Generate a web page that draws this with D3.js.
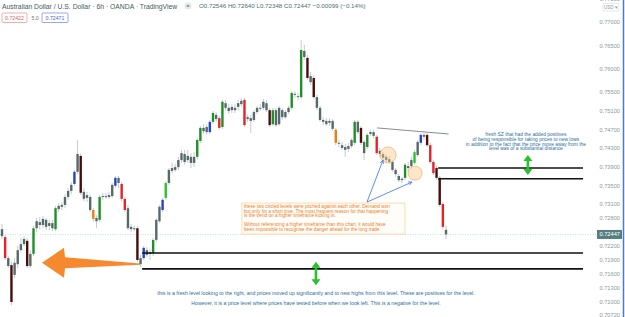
<!DOCTYPE html>
<html>
<head>
<meta charset="utf-8">
<script src="https://cdn.jsdelivr.net/npm/d3@7"></script>
<style>
body { margin: 0; background: #fff; }
svg { display: block; font-family: "Liberation Sans", Arial, sans-serif; }
</style>
</head>
<body>
<svg id="chart" width="625" height="317"></svg>
<script>
// AUD/USD 6h candles
const opens = [
  .7256,.7239,.7194,.7179,.7158,.7181,.7211,.7224,.7231,.7177,
  .7203,.7258,.7271,.7265,.7276,.7263,.7269,.7256,.7299,.7304,
  .7308,.7325,.7338,.7353,.7379,.7413,.7336,.7323,.7325,.7297,
  .7280,.7276,.7325,.7327,.7325,.7327,.7349,.7366,.7353,.7321,
  .7301,.7261,.7256,.7258,.7194,.7194,.7211,.7207,.7205,.7233,
  .7273,.7297,.7323,.7355,.7381,.7383,.7389,.7404,.7417,.7404,
  .7411,.7398,.7411,.7445,.7473,.7464,.7464,.7486,.7501,.7494,
  .7475,.7526,.7516,.7511,.7516,.7518,.7524,.7533,.7492,.7494,
  .7490,.7507,.7514,.7516,.7526,.7511,.7481,.7511,.7481,.7511,
  .7496,.7507,.7516,.7544,.7541,.7539,.7638,.7623,.7584,.7580,
  .7539,.7516,.7490,.7488,.7484,.7488,.7469,.7441,.7436,.7432,
  .7428,.7434,.7441,.7486,.7473,.7443,.7432,.7460,.7464,.7454,
  .7424,.7417,.7411,.7406,.7400,.7383,.7370,.7361,.7366,.7391,
  .7391,.7398,.7415,.7441,.7458,.7458,.7436,.7400,.7387,.7366,
  .7310,.72546
];
const highs = [
  .7267,.7243,.7198,.7186,.7194,.7220,.7237,.7241,.7237,.7211,
  .7263,.7280,.7282,.7284,.7280,.7276,.7276,.7306,.7312,.7314,
  .7331,.7344,.7357,.7383,.7447,.7419,.7344,.7336,.7329,.7301,
  .7286,.7329,.7334,.7334,.7336,.7355,.7370,.7370,.7357,.7325,
  .7308,.7267,.7263,.7263,.7201,.7220,.7218,.7213,.7237,.7280,
  .7308,.7323,.7359,.7387,.7398,.7396,.7411,.7426,.7426,.7426,
  .7419,.7421,.7451,.7477,.7481,.7481,.7490,.7509,.7507,.7499,
  .7533,.7533,.7524,.7524,.7524,.7533,.7537,.7537,.7501,.7501,
  .7511,.7520,.7524,.7535,.7533,.7516,.7516,.7516,.7520,.7516,
  .7511,.7520,.7552,.7552,.7548,.7661,.7651,.7629,.7593,.7586,
  .7544,.7520,.7496,.7494,.7494,.7492,.7473,.7447,.7443,.7439,
  .7441,.7451,.7490,.7490,.7477,.7447,.7462,.7469,.7469,.7458,
  .7430,.7421,.7415,.7413,.7404,.7387,.7374,.7368,.7398,.7400,
  .7411,.7426,.7447,.7462,.7464,.7462,.7441,.7404,.7391,.7370,
  .7314,.72640
];
const lows = [
  .7235,.7190,.7173,.7093,.7151,.7173,.7207,.7220,.7173,.7173,
  .7198,.7250,.7256,.7258,.7254,.7254,.7252,.7252,.7293,.7297,
  .7301,.7319,.7331,.7349,.7374,.7329,.7316,.7314,.7293,.7273,
  .7258,.7271,.7319,.7321,.7321,.7323,.7344,.7344,.7316,.7293,
  .7254,.7250,.7252,.7186,.7175,.7190,.7196,.7190,.7198,.7228,
  .7269,.7293,.7319,.7351,.7376,.7379,.7383,.7398,.7394,.7398,
  .7387,.7389,.7406,.7441,.7460,.7458,.7460,.7481,.7486,.7469,
  .7471,.7511,.7503,.7505,.7505,.7511,.7520,.7475,.7486,.7462,
  .7486,.7503,.7509,.7511,.7507,.7475,.7477,.7475,.7477,.7490,
  .7492,.7503,.7511,.7537,.7533,.7535,.7619,.7576,.7565,.7535,
  .7511,.7486,.7479,.7477,.7477,.7466,.7436,.7432,.7426,.7411,
  .7421,.7430,.7436,.7460,.7436,.7404,.7428,.7456,.7451,.7415,
  .7411,.7402,.7400,.7396,.7379,.7368,.7357,.7355,.7361,.7379,
  .7387,.7394,.7411,.7436,.7447,.7432,.7396,.7372,.7361,.7304,
  .7256,.72348
];
const closes = [
  .7241,.7194,.7177,.7100,.7184,.7211,.7224,.7235,.7177,.7203,
  .7258,.7273,.7265,.7278,.7261,.7269,.7258,.7301,.7306,.7308,
  .7325,.7338,.7351,.7379,.7417,.7334,.7321,.7329,.7297,.7278,
  .7273,.7325,.7327,.7325,.7329,.7351,.7366,.7355,.7321,.7297,
  .7258,.7256,.7258,.7190,.7181,.7216,.7201,.7203,.7233,.7276,
  .7304,.7319,.7355,.7383,.7387,.7389,.7404,.7419,.7400,.7413,
  .7398,.7411,.7447,.7473,.7466,.7475,.7486,.7505,.7492,.7473,
  .7529,.7516,.7509,.7518,.7511,.7526,.7531,.7479,.7496,.7488,
  .7507,.7516,.7516,.7529,.7511,.7479,.7511,.7479,.7516,.7496,
  .7507,.7516,.7548,.7546,.7539,.7640,.7625,.7580,.7571,.7539,
  .7516,.7490,.7486,.7481,.7488,.7471,.7441,.7439,.7430,.7426,
  .7434,.7447,.7486,.7464,.7441,.7419,.7458,.7464,.7456,.7419,
  .7417,.7409,.7404,.7400,.7383,.7374,.7361,.7364,.7394,.7387,
  .7404,.7421,.7443,.7458,.7454,.7436,.7400,.7376,.7366,.7308,
  .7261,.72447
];
// indicator colour class of each candle
const tags = [
  "n","r","n","m","n","n","n","n","m","n",
  "g","n","n","n","n","n","n","g","n","n",
  "n","n","n","b","n","m","n","n","n","o",
  "n","g","n","n","n","n","b","n","r","r",
  "n","n","n","m","n","b","n","n","g","n",
  "n","b","G","n","n","n","n","n","n","n",
  "n","n","g","g","n","n","b","g","n","r",
  "g","n","n","n","n","n","n","r","n","n",
  "n","n","n","n","n","m","g","n","n","n",
  "n","n","g","n","n","g","n","m","n","m",
  "n","n","n","n","n","n","o","n","n","n",
  "n","n","g","n","m","n","g","n","n","r",
  "n","n","n","n","n","n","n","n","g","n",
  "n","G","n","b","n","m","r","r","m","m",
  "r","n"
];

const priceTicks = [0.775, 0.77, 0.765, 0.76, 0.755, 0.751, 0.747, 0.743, 0.739, 0.735,
  0.731, 0.728, 0.722, 0.719, 0.716, 0.713, 0.71, 0.7072];
const lastPrice = 0.72447;

// drawings on the chart (candle index, price)
const zones = [
  { from: 138.5, top: 0.7387, bottom: 0.7364 },
  { from: 44.5, top: 0.7205, bottom: 0.7171 }
];
const trendLine = [{ i: 119.1, p: 0.7473 }, { i: 141.8, p: 0.7460 }];
const circles = [{ i: 122.6, p: 0.7415 }, { i: 131.2, p: 0.7376 }];
const pointerFrom = { i: 115.9, p: 0.7314 };
const pointerTo = [{ i: 121.0, p: 0.7404 }, { i: 130.2, p: 0.7357 }];
const greenArrows = [
  { i: 167.0, top: 0.7415, bottom: 0.7372 },
  { i: 99.7, top: 0.7186, bottom: 0.7136 }
];
const bigArrow = { tail: { i: 43.8, p: 0.7181 }, tip: { i: 12.7, p: 0.7184 } };

const orangeNote = [
  "these two circled levels were pitched against each other. Demand won",
  "but only for a short time. The most frequent reason for that happening",
  "is the trend on a higher timeframe kicking in.",
  "",
  "Without referencing a higher timeframe than this chart, it would have",
  "been impossible to recognise the danger ahead for the long trade."
];
const blueNote = [
  "fresh SZ that had the added positives",
  "of being responsible for taking prices to new lows",
  "in addition to the fact that the price move away from the",
  "level was of a substantial distance"
];
const bottomNote = [
  "this is a fresh level looking to the right, and prices moved up significantly and to new highs from this level. These are positives for the level.",
  "However, it is a price level where prices have tested before when we look left. This is a negative for the level."
];

const tagColor = { n: "#566a6b", r: "#e3242b", m: "#4a0d0d", g: "#1f8f2a", G: "#2bc22b", b: "#2545c8", o: "#f07a18" };

const svg = d3.select("#chart");
const width = 625, height = 317, plotRight = 583;

const x = d3.scaleLinear().domain([0, opens.length - 1]).range([2, 446]);
const y = d3.scaleLinear().domain([0.70678, 0.77471]).range([height, 0]);

const candles = d3.range(opens.length).map(i => ({ i, o: opens[i], h: highs[i], l: lows[i], c: closes[i], t: tags[i] }));

// last price dotted line
svg.append("line")
  .attr("x1", 0).attr("x2", 597)
  .attr("y1", y(lastPrice)).attr("y2", y(lastPrice))
  .attr("stroke", "#b9d0d0").attr("stroke-width", 0.8)
  .attr("stroke-dasharray", "1,1.5");

// big orange arrow
function drawBigArrow(a) {
  const x0 = x(a.tip.i), y0 = y(a.tip.p), x1 = x(a.tail.i), y1 = y(a.tail.p);
  const headLen = 22, headHalf = 15, shaftHalf = 5.5;
  const hx = x0 + headLen;
  const pts = [[x0, y0], [hx, y0 - headHalf], [hx + 1, y0 - shaftHalf], [x1, y1 - 0.6],
               [x1, y1 + 0.6], [hx + 1, y0 + shaftHalf], [hx, y0 + headHalf]];
  svg.append("path")
    .attr("d", d3.line()(pts) + "Z")
    .attr("fill", "#f6892e");
}
drawBigArrow(bigArrow);

// candles
const wicks = svg.append("g");
wicks.selectAll("line").data(candles).join("line")
  .attr("x1", d => x(d.i)).attr("x2", d => x(d.i))
  .attr("y1", d => y(d.h)).attr("y2", d => y(d.l))
  .attr("stroke", "#b7bcbc").attr("stroke-width", 0.8);

const bodies = svg.append("g");
bodies.selectAll("rect").data(candles).join("rect")
  .attr("x", d => x(d.i) - 1.2)
  .attr("width", 2.4)
  .attr("y", d => y(Math.max(d.o, d.c)))
  .attr("height", d => Math.max(1, Math.abs(y(d.o) - y(d.c))))
  .attr("fill", d => tagColor[d.t]);

// zones
zones.forEach(z => {
  [z.top, z.bottom].forEach(p => {
    svg.append("line")
      .attr("x1", x(z.from)).attr("x2", plotRight)
      .attr("y1", y(p)).attr("y2", y(p))
      .attr("stroke", "#111").attr("stroke-width", 1.6);
  });
});

// trend line
svg.append("line")
  .attr("x1", x(trendLine[0].i)).attr("y1", y(trendLine[0].p))
  .attr("x2", x(trendLine[1].i)).attr("y2", y(trendLine[1].p))
  .attr("stroke", "#7a7f85").attr("stroke-width", 0.9);

// circled levels
svg.append("g").selectAll("circle").data(circles).join("circle")
  .attr("cx", d => x(d.i)).attr("cy", d => y(d.p)).attr("r", (d, k) => k ? 7 : 8)
  .attr("fill", "#f9c98a").attr("fill-opacity", 0.45)
  .attr("stroke", "#f3b060").attr("stroke-width", 0.7);

// pointers from the note to the circles
pointerTo.forEach(t => {
  const ax = x(pointerFrom.i), ay = y(pointerFrom.p), bx = x(t.i), by = y(t.p);
  svg.append("line")
    .attr("x1", ax).attr("y1", ay).attr("x2", bx).attr("y2", by)
    .attr("stroke", "#4f7ff0").attr("stroke-width", 0.9);
  const ang = Math.atan2(by - ay, bx - ax);
  const hl = 4, hw = 0.45;
  svg.append("path")
    .attr("d", d3.line()([[bx - hl * Math.cos(ang - hw), by - hl * Math.sin(ang - hw)], [bx, by],
                          [bx - hl * Math.cos(ang + hw), by - hl * Math.sin(ang + hw)]]))
    .attr("fill", "none").attr("stroke", "#4f7ff0").attr("stroke-width", 0.9);
});

// green up/down arrows
greenArrows.forEach(a => {
  const cx = x(a.i), t = y(a.top), b = y(a.bottom);
  const hw = 4.5, hh = 6;
  svg.append("path")
    .attr("d", `M${cx},${t} L${cx + hw},${t + hh} L${cx + 1.3},${t + hh} L${cx + 1.3},${b - hh}
      L${cx + hw},${b - hh} L${cx},${b} L${cx - hw},${b - hh} L${cx - 1.3},${b - hh}
      L${cx - 1.3},${t + hh} L${cx - hw},${t + hh} Z`)
    .attr("fill", "#27c22e");
});

// orange note box
const ox = x(76.2), oy = y(0.7312);
svg.append("rect")
  .attr("x", ox).attr("y", oy).attr("width", 163).attr("height", 31)
  .attr("fill", "#fffdf8").attr("fill-opacity", 0.85)
  .attr("stroke", "#f8d49a").attr("stroke-width", 0.8);
svg.append("g").selectAll("text").data(orangeNote).join("text")
  .attr("x", ox + 2).attr("y", (d, k) => oy + 5 + k * 4.6)
  .attr("font-size", 4.7).attr("fill", "#f07c1c")
  .text(d => d);

// blue note at top right
const bx = x(167), by = y(0.7458);
svg.append("g").selectAll("text").data(blueNote).join("text")
  .attr("x", bx - 2).attr("y", (d, k) => by + 1.2 + k * 4.7)
  .attr("text-anchor", "middle").attr("font-size", 4.9).attr("fill", "#2d6e9c")
  .text(d => d);

// bottom note
const tx = x(99.7), ty = y(0.7119);
svg.append("g").selectAll("text").data(bottomNote).join("text")
  .attr("x", tx).attr("y", (d, k) => ty + 1.8 + k * 10)
  .attr("text-anchor", "middle").attr("font-size", 5.2).attr("fill", "#2d6e9c")
  .text(d => d);

// price axis
const axis = svg.append("g")
  .attr("transform", "translate(620,0)")
  .call(d3.axisLeft(y).tickValues(priceTicks).tickFormat(d3.format(".5f")).tickSize(0).tickPadding(0));
axis.select(".domain").remove();
axis.selectAll("text").attr("font-size", 5.7).attr("fill", "#8a9a9a")
  .attr("font-family", "Liberation Sans, Arial, sans-serif");

// current price label
svg.append("rect")
  .attr("x", 597).attr("y", y(lastPrice) - 4.5).attr("width", 25).attr("height", 9)
  .attr("fill", "#557f7f");
svg.append("text")
  .attr("x", 620).attr("y", y(lastPrice) + 2).attr("text-anchor", "end")
  .attr("font-size", 5.7).attr("fill", "#fff").text(d3.format(".5f")(lastPrice));

// USD selector
svg.append("rect").attr("x", 603).attr("y", 3.5).attr("width", 16).attr("height", 7.5)
  .attr("fill", "#fff").attr("stroke", "#d5d9d9").attr("stroke-width", 0.6).attr("rx", 1);
svg.append("text").attr("x", 611).attr("y", 9).attr("text-anchor", "middle")
  .attr("font-size", 4.5).attr("fill", "#8a9a9a").text("USD ▾");

// right border
svg.append("line").attr("x1", 623.5).attr("x2", 623.5).attr("y1", 0).attr("y2", height)
  .attr("stroke", "#4677ee").attr("stroke-width", 1.5);

// header
svg.append("text").attr("x", 2).attr("y", 8.5).attr("font-size", 6.8).attr("fill", "#3f5c5c")
  .text("Australian Dollar / U.S. Dollar · 6h · OANDA · TradingView");
svg.append("circle").attr("cx", 188).attr("cy", 6).attr("r", 3.6).attr("fill", "#e6e8e8");
svg.append("text").attr("x", 188).attr("y", 7.6).attr("text-anchor", "middle")
  .attr("font-size", 5).attr("fill", "#555").text("=");
svg.append("text").attr("x", 199).attr("y", 8.3).attr("font-size", 6.2).attr("fill", "#4d7070")
  .text("O0.72546 H0.72640 L0.72348 C0.72447 −0.00099 (−0.14%)");

svg.append("rect").attr("x", 2).attr("y", 13).attr("width", 25).attr("height", 9.5).attr("rx", 1)
  .attr("fill", "#fff").attr("stroke", "#ef8a8a").attr("stroke-width", 0.7);
svg.append("text").attr("x", 14.5).attr("y", 19.6).attr("text-anchor", "middle")
  .attr("font-size", 5.2).attr("fill", "#e06060").text("0.72422");
svg.append("text").attr("x", 31.5).attr("y", 19.6).attr("font-size", 5.2).attr("fill", "#777").text("5.0");
svg.append("rect").attr("x", 42).attr("y", 13).attr("width", 26).attr("height", 9.5).attr("rx", 1)
  .attr("fill", "#fff").attr("stroke", "#6e82e6").attr("stroke-width", 0.7);
svg.append("text").attr("x", 55).attr("y", 19.6).attr("text-anchor", "middle")
  .attr("font-size", 5.2).attr("fill", "#4f62d0").text("0.72471");
</script>
</body>
</html>
